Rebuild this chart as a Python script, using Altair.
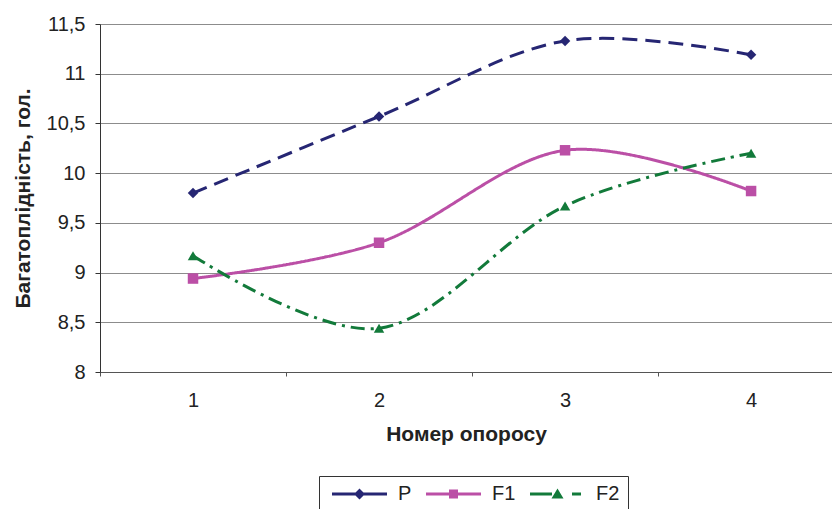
import altair as alt
import pandas as pd

categories = [1, 2, 3, 4]
series_names = ["P", "F1", "F2"]
p_values = [9.80, 10.57, 11.33, 11.19]
f1_values = [8.94, 9.30, 10.23, 9.82]
f2_values = [9.17, 8.44, 9.67, 10.20]
y_ticks = [8, 8.5, 9, 9.5, 10, 10.5, 11, 11.5]
x_ticks = [0.5, 1, 1.5, 2, 2.5, 3, 3.5, 4]

colors = ["#262673", "#BB4FA6", "#127A3A"]
shapes = {"P": "diamond", "F1": "square", "F2": "triangle-up"}
dashes = {"P": [15, 8], "F1": [1, 0], "F2": [14, 6, 3, 6]}

rows = []
for name, vals in zip(series_names, [p_values, f1_values, f2_values]):
    for c, v in zip(categories, vals):
        rows.append({"series": name, "x": c, "y": v, "shape": shapes[name]})
df = pd.DataFrame(rows)

legend_paths = {
    "P": "M-1,-0.3H10V0.3H-1Z M4.5,-1.1L5.6,0L4.5,1.1L3.4,0Z",
    "F1": "M-1,-0.3H10V0.3H-1Z M3.6,-0.9H5.4V0.9H3.6Z",
    "F2": "M-1,-0.3H3.4V0.3H-1Z M4.5,-1.1L5.7,0.9H3.3Z M7.4,-0.3H9.2V0.3H7.4Z",
}
sym_expr = (
    "datum.value == 'P' ? '" + legend_paths["P"] + "' : "
    "datum.value == 'F1' ? '" + legend_paths["F1"] + "' : '" + legend_paths["F2"] + "'"
)

FONT = "Liberation Sans"

x_enc = alt.X(
    "x:Q",
    scale=alt.Scale(domain=[0.5, 4.435], nice=False, zero=False),
    axis=alt.Axis(
        values=x_ticks,
        labelExpr="datum.value % 1 == 0 ? datum.value : ''",
        tickOpacity=alt.ExprRef("datum.value % 1 == 0 ? 0 : 1"),
        title="Номер опоросу",
        grid=False,
        tickSize=4,
        labelPadding=14,
        titlePadding=13,
        domainColor="#555555",
        tickColor="#555555",
    ),
)
y_enc = alt.Y(
    "y:Q",
    scale=alt.Scale(domain=[8, 11.5], nice=False, zero=False),
    axis=alt.Axis(
        values=y_ticks,
        labelExpr="replace(toString(datum.value), '.', ',')",
        title="Багатоплідність, гол.",
        grid=True,
        gridColor="#8c8c8c",
        gridWidth=1.2,
        tickSize=5,
        labelPadding=10,
        titlePadding=13,
        domainColor="#333333",
        tickColor="#333333",
    ),
)
color_scale = alt.Scale(domain=series_names, range=colors)

legend = alt.Legend(
    title=None,
    orient="none",
    direction="horizontal",
    legendX=219,
    legendY=452,
    symbolType=alt.ExprRef(sym_expr),
    symbolSize=100,
    symbolStrokeWidth=0,
    symbolOpacity=1,
    labelOffset=51,
    columnPadding=9,
    padding=8,
    strokeColor="#333333",
    fillColor="white",
    labelFontSize=20,
    labelFont=FONT,
    labelColor="#222222",
)
color_enc = alt.Color("series:N", scale=color_scale, sort=series_names, legend=legend)

base = alt.Chart(df)
lines = []
for name in series_names:
    lines.append(
        base.transform_filter(alt.datum.series == name)
        .mark_line(interpolate="cardinal", tension=0, strokeWidth=3, strokeDash=dashes[name])
        .encode(x=x_enc, y=y_enc, color=color_enc)
    )

points = base.mark_point(filled=True, opacity=1, size=110).encode(
    x=x_enc,
    y=y_enc,
    shape=alt.Shape("shape:N", scale=None),
    color=color_enc,
)

chart = (
    alt.layer(*lines, points)
    .properties(
        width=732,
        height=348,
        padding={"left": 100, "top": 24, "right": 0, "bottom": 137},
        autosize=alt.AutoSizeParams(type="none"),
        background="white",
    )
    .configure_view(stroke=None)
    .configure_axis(
        labelFont=FONT,
        labelFontSize=20,
        labelColor="#222222",
        titleFont=FONT,
        titleFontSize=21,
        titleFontWeight="bold",
        titleColor="#222222",
    )
)

chart.save("out.html", embed_options={"renderer": "svg", "actions": False})
